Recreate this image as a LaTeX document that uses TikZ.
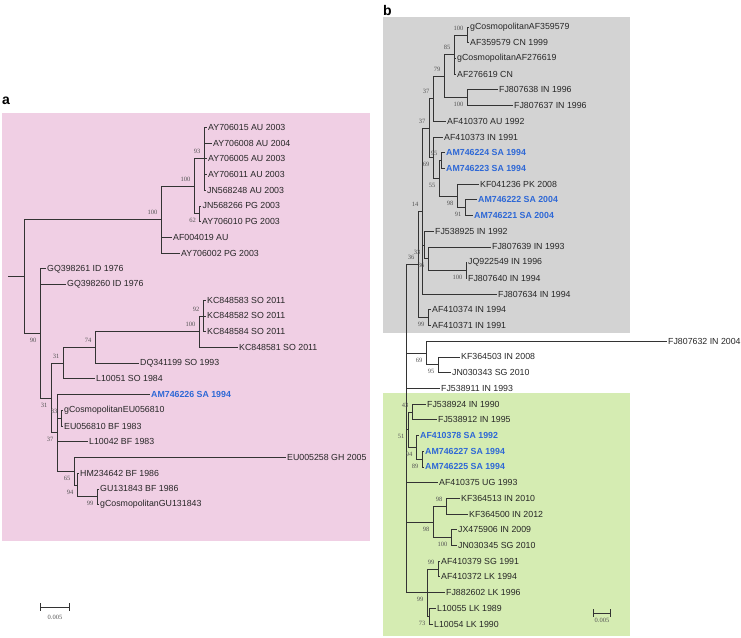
\documentclass[tikz,border=0pt]{standalone}
\usepackage{fontspec}
\setmainfont{Liberation Sans}
\newfontfamily\bsfont{Liberation Serif}
\definecolor{pinkbg}{RGB}{240,207,228}
\definecolor{graybg}{RGB}{211,211,211}
\definecolor{greenbg}{RGB}{213,236,178}
\definecolor{saBlue}{RGB}{46,104,214}
\definecolor{bsGray}{RGB}{85,85,85}
\tikzset{
  leaf/.style={anchor=west, inner xsep=1.5pt, inner ysep=0pt, font=\fontsize{8.8}{10}\selectfont, text=black!85},
  saleaf/.style={leaf, font=\fontsize{8.8}{10}\selectfont\bfseries, text=saBlue},
  bs/.style={anchor=east, inner sep=0pt, font=\bsfont\fontsize{6.5}{7}\selectfont, text=bsGray, xshift=-3.5pt},
  bsa/.style={bs, yshift=7pt},
  bsb/.style={bs, yshift=-7pt},
  branch/.style={line width=0.8pt, black!80},
  br/.style={branch, to path={|- (\tikztotarget)}},
  sclabel/.style={inner sep=0pt, font=\bsfont\fontsize{6.5}{7}\selectfont, text=bsGray},
  panel/.style={anchor=base west, inner sep=0pt, font=\fontsize{14}{16}\selectfont\bfseries},
}
\begin{document}
\begin{tikzpicture}[x=1pt, y=-1pt]
\useasboundingbox (0,0) rectangle (741,637);

% Background boxes
\fill[pinkbg] (2,113) rectangle (370,541);
\fill[graybg] (383,17) rectangle (630,333);
\fill[greenbg] (383,393) rectangle (630,636);
\node[panel] (pa) at (2,104) {a};
\node[panel] (pb) at (383,15) {b};

% ---- Tree a: leaves
\node[leaf] (a1) at (206.5,127.3) {AY706015 AU 2003};
\node[leaf] (a2) at (211.5,143.0) {AY706008 AU 2004};
\node[leaf] (a3) at (206.5,158.7) {AY706005 AU 2003};
\node[leaf] (a4) at (206.5,174.5) {AY706011 AU 2003};
\node[leaf] (a5) at (205.5,190.2) {JN568248 AU 2003};
\node[leaf] (a6) at (201,205.9) {JN568266 PG 2003};
\node[leaf] (a7) at (200.5,221.6) {AY706010 PG 2003};
\node[leaf] (a8) at (171.5,237.3) {AF004019 AU};
\node[leaf] (a9) at (179.5,253.1) {AY706002 PG 2003};
\node[leaf] (a10) at (45.5,268.8) {GQ398261 ID 1976};
\node[leaf] (a11) at (65.5,284.5) {GQ398260 ID 1976};
\node[leaf] (a12) at (205.5,300.2) {KC848583 SO 2011};
\node[leaf] (a13) at (205.5,315.9) {KC848582 SO 2011};
\node[leaf] (a14) at (205.5,331.7) {KC848584 SO 2011};
\node[leaf] (a15) at (237.5,347.4) {KC848581 SO 2011};
\node[leaf] (a16) at (138.5,363.1) {DQ341199 SO 1993};
\node[leaf] (a17) at (94.5,378.8) {L10051 SO 1984};
\node[saleaf] (a18) at (149.5,394.5) {AM746226 SA 1994};
\node[leaf] (a19) at (62.5,410.3) {gCosmopolitanEU056810};
\node[leaf] (a20) at (62.5,426.0) {EU056810 BF 1983};
\node[leaf] (a21) at (87.5,441.7) {L10042 BF 1983};
\node[leaf] (a22) at (285.5,457.4) {EU005258 GH 2005};
\node[leaf] (a23) at (78.5,473.1) {HM234642 BF 1986};
\node[leaf] (a24) at (98.5,488.9) {GU131843 BF 1986};
\node[leaf] (a25) at (98.5,504.6) {gCosmopolitanGU131843};

% ---- Tree a: inner nodes
\coordinate (n93) at (204,158.8);
\coordinate (n62) at (199.5,213.8);
\coordinate (n100s) at (194,186.3);
\coordinate (n100b) at (161,219.7);
\coordinate (n92) at (203,316.0);
\coordinate (n100k) at (199,331.7);
\coordinate (n74) at (95,347.4);
\coordinate (n31b) at (63,363.1);
\coordinate (n83) at (61,418.2);
\coordinate (n99) at (97,496.7);
\coordinate (n94) at (77,484.9);
\coordinate (n65) at (74,471.2);
\coordinate (n37) at (57,432.8);
\coordinate (n31) at (51,398.0);
\coordinate (n90) at (40,333.4);
\coordinate (ra) at (24,276.6);
\coordinate (ra0) at (8,276.6);

% ---- Tree a: branches
\path (n93) edge[br] (a1.west) edge[br] (a2.west) edge[br] (a3.west) edge[br] (a4.west) edge[br] (a5.west);
\path (n62) edge[br] (a6.west) edge[br] (a7.west);
\path (n100s) edge[br] (n93) edge[br] (n62);
\path (n100b) edge[br] (n100s) edge[br] (a8.west) edge[br] (a9.west);
\path (n92) edge[br] (a12.west) edge[br] (a13.west) edge[br] (a14.west);
\path (n100k) edge[br] (n92) edge[br] (a15.west);
\path (n74) edge[br] (n100k) edge[br] (a16.west);
\path (n31b) edge[br] (n74) edge[br] (a17.west);
\path (n83) edge[br] (a19.west) edge[br] (a20.west);
\path (n99) edge[br] (a24.west) edge[br] (a25.west);
\path (n94) edge[br] (a23.west) edge[br] (n99);
\path (n65) edge[br] (a22.west) edge[br] (n94);
\path (n37) edge[br] (a18.west) edge[br] (n83) edge[br] (a21.west) edge[br] (n65);
\path (n31) edge[br] (n31b) edge[br] (n37);
\path (n90) edge[br] (a10.west) edge[br] (a11.west) edge[br] (n31);
\path (ra) edge[br] (n100b) edge[br] (n90);
\draw[branch] (ra0) -- (ra);

% ---- Tree a: bootstrap values
\node[bsa] (ba93) at (n93) {93};
\node[bsb] (ba62) at (n62) {62};
\node[bsa] (ba100s) at (n100s) {100};
\node[bsa] (ba100b) at (n100b) {100};
\node[bsa] (ba92) at (n92) {92};
\node[bsa] (ba100k) at (n100k) {100};
\node[bsa] (ba74) at (n74) {74};
\node[bsa] (ba31b) at (n31b) {31};
\node[bsa] (ba83) at (n83) {83};
\node[bsb] (ba37) at (n37) {37};
\node[bsb] (ba31) at (n31) {31};
\node[bsb] (ba90) at (n90) {90};
\node[bsb] (ba65) at (n65) {65};
\node[bsb] (ba94) at (n94) {94};
\node[bsb] (ba99) at (n99) {99};

% Scale bar a
\coordinate (sa1) at (40,607);
\coordinate (sa2) at (70,607);
\draw[branch,|-|] (sa1) -- (sa2);
\node[sclabel] (sla) at (55,617) {0.005};

% ---- Tree b: leaves
\node[leaf] (b1) at (468.5,27.0) {gCosmopolitanAF359579};
\node[leaf] (b2) at (468.5,42.7) {AF359579 CN 1999};
\node[leaf] (b3) at (455.5,58.4) {gCosmopolitanAF276619};
\node[leaf] (b4) at (455.5,74.1) {AF276619 CN};
\node[leaf] (b5) at (497.5,89.8) {FJ807638 IN 1996};
\node[leaf] (b6) at (512.5,105.6) {FJ807637 IN 1996};
\node[leaf] (b7) at (445.5,121.3) {AF410370 AU 1992};
\node[leaf] (b8) at (442.5,137.0) {AF410373 IN 1991};
\node[saleaf] (b9) at (444.5,152.7) {AM746224 SA 1994};
\node[saleaf] (b10) at (444.5,168.4) {AM746223 SA 1994};
\node[leaf] (b11) at (478.5,184.1) {KF041236 PK 2008};
\node[saleaf] (b12) at (476.5,199.8) {AM746222 SA 2004};
\node[saleaf] (b13) at (472.5,215.5) {AM746221 SA 2004};
\node[leaf] (b14) at (433.5,231.2) {FJ538925 IN 1992};
\node[leaf] (b15) at (490.5,246.9) {FJ807639 IN 1993};
\node[leaf] (b16) at (466.5,262.7) {JQ922549 IN 1996};
\node[leaf] (b17) at (466.5,278.4) {FJ807640 IN 1994};
\node[leaf] (b18) at (496.5,294.1) {FJ807634 IN 1994};
\node[leaf] (b19) at (430.5,309.8) {AF410374 IN 1994};
\node[leaf] (b20) at (430.5,325.5) {AF410371 IN 1991};
\node[leaf] (b21) at (666.5,341.2) {FJ807632 IN 2004};
\node[leaf] (b22) at (459.5,356.9) {KF364503 IN 2008};
\node[leaf] (b23) at (450.5,372.6) {JN030343 SG 2010};
\node[leaf] (b24) at (439.5,388.3) {FJ538911 IN 1993};
\node[leaf] (b25) at (425.5,404.0) {FJ538924 IN 1990};
\node[leaf] (b26) at (436.5,419.8) {FJ538912 IN 1995};
\node[saleaf] (b27) at (418.5,435.5) {AF410378 SA 1992};
\node[saleaf] (b28) at (423.5,451.2) {AM746227 SA 1994};
\node[saleaf] (b29) at (423.5,466.9) {AM746225 SA 1994};
\node[leaf] (b30) at (437.5,482.6) {AF410375 UG 1993};
\node[leaf] (b31) at (459.5,498.3) {KF364513 IN 2010};
\node[leaf] (b32) at (467.5,514.0) {KF364500 IN 2012};
\node[leaf] (b33) at (456.5,529.7) {JX475906 IN 2009};
\node[leaf] (b34) at (456.5,545.4) {JN030345 SG 2010};
\node[leaf] (b35) at (439.5,561.1) {AF410379 SG 1991};
\node[leaf] (b36) at (439.5,576.8) {AF410372 LK 1994};
\node[leaf] (b37) at (444.5,592.6) {FJ882602 LK 1996};
\node[leaf] (b38) at (435.5,608.3) {L10055 LK 1989};
\node[leaf] (b39) at (432.5,624.0) {L10054 LK 1990};

% ---- Tree b: inner nodes
\coordinate (m100t) at (467,34.9);
\coordinate (m85) at (454,54.5);
\coordinate (m100f) at (467,97.7);
\coordinate (m79) at (444,76.1);
\coordinate (m37u) at (433,98.7);
\coordinate (m95) at (441,160.6);
\coordinate (m91) at (465,207.7);
\coordinate (m98) at (457,195.9);
\coordinate (m55) at (439,178.3);
\coordinate (m69) at (433,157.7);
\coordinate (m37l) at (429,128.2);
\coordinate (m100j) at (466,270.6);
\coordinate (m36b) at (428,258.8);
\coordinate (m33) at (424,245.0);
\coordinate (m14) at (422,211.2);
\coordinate (m99u) at (428,317.7);
\coordinate (m36) at (418,264.5);
\coordinate (m95b) at (438,364.8);
\coordinate (m69b) at (426,353.0);
\coordinate (m43) at (412,411.9);
\coordinate (m89) at (422,459.1);
\coordinate (m94) at (416,447.3);
\coordinate (m51) at (408,429.6);
\coordinate (m98u) at (446,506.2);
\coordinate (m100) at (451,537.6);
\coordinate (m98l) at (433,521.9);
\coordinate (m99a) at (438,569.0);
\coordinate (m73) at (429,616.2);
\coordinate (m99l) at (427,592.6);
\coordinate (rb) at (406,428.6);

% ---- Tree b: branches
\path (m100t) edge[br] (b1.west) edge[br] (b2.west);
\path (m85) edge[br] (m100t) edge[br] (b3.west) edge[br] (b4.west);
\path (m100f) edge[br] (b5.west) edge[br] (b6.west);
\path (m79) edge[br] (m85) edge[br] (m100f);
\path (m37u) edge[br] (m79) edge[br] (b7.west);
\path (m95) edge[br] (b9.west) edge[br] (b10.west);
\path (m91) edge[br] (b12.west) edge[br] (b13.west);
\path (m98) edge[br] (b11.west) edge[br] (m91);
\path (m55) edge[br] (m95) edge[br] (m98);
\path (m69) edge[br] (b8.west) edge[br] (m55);
\path (m37l) edge[br] (m37u) edge[br] (m69);
\path (m100j) edge[br] (b16.west) edge[br] (b17.west);
\path (m36b) edge[br] (b15.west) edge[br] (m100j);
\path (m33) edge[br] (b14.west) edge[br] (m36b);
\path (m14) edge[br] (m37l) edge[br] (m33) edge[br] (b18.west);
\path (m99u) edge[br] (b19.west) edge[br] (b20.west);
\path (m36) edge[br] (m14) edge[br] (m99u);
\path (m95b) edge[br] (b22.west) edge[br] (b23.west);
\path (m69b) edge[br] (b21.west) edge[br] (m95b);
\path (m43) edge[br] (b25.west) edge[br] (b26.west);
\path (m89) edge[br] (b28.west) edge[br] (b29.west);
\path (m94) edge[br] (b27.west) edge[br] (m89);
\path (m51) edge[br] (m43) edge[br] (m94);
\path (m98u) edge[br] (b31.west) edge[br] (b32.west);
\path (m100) edge[br] (b33.west) edge[br] (b34.west);
\path (m98l) edge[br] (m98u) edge[br] (m100);
\path (m99a) edge[br] (b35.west) edge[br] (b36.west);
\path (m73) edge[br] (b38.west) edge[br] (b39.west);
\path (m99l) edge[br] (m99a) edge[br] (b37.west) edge[br] (m73);
\path (rb) edge[br] (m36) edge[br] (m69b) edge[br] (b24.west) edge[br] (m51)
  edge[br] (b30.west) edge[br] (m98l) edge[br] (m99l);

% ---- Tree b: bootstrap values
\node[bsa] (bb100t) at (m100t) {100};
\node[bsa] (bb85) at (m85) {85};
\node[bsb] (bb100f) at (m100f) {100};
\node[bsa] (bb79) at (m79) {79};
\node[bsa] (bb37u) at (m37u) {37};
\node[bsa] (bb37l) at (m37l) {37};
\node[bsb] (bb69) at (m69) {69};
\node[bsa] (bb95) at (m95) {95};
\node[bsb] (bb55) at (m55) {55};
\node[bsb] (bb98) at (m98) {98};
\node[bsb] (bb91) at (m91) {91};
\node[bsa] (bb14) at (m14) {14};
\node[bsb] (bb33) at (m33) {33};
\node[bsb] (bb36b) at (m36b) {36};
\node[bsb] (bb100j) at (m100j) {100};
\node[bsa] (bb36) at (m36) {36};
\node[bsb] (bb99u) at (m99u) {99};
\node[bsb] (bb69b) at (m69b) {69};
\node[bsb] (bb95b) at (m95b) {95};
\node[bsa] (bb43) at (m43) {43};
\node[bsb] (bb51) at (m51) {51};
\node[bsb] (bb94) at (m94) {94};
\node[bsb] (bb89) at (m89) {89};
\node[bsa] (bb98u) at (m98u) {98};
\node[bsb] (bb98l) at (m98l) {98};
\node[bsb] (bb100) at (m100) {100};
\node[bsa] (bb99a) at (m99a) {99};
\node[bsb] (bb99l) at (m99l) {99};
\node[bsb] (bb73) at (m73) {73};

% Scale bar b
\coordinate (sb1) at (593,613);
\coordinate (sb2) at (611,613);
\draw[branch,|-|] (sb1) -- (sb2);
\node[sclabel] (slb) at (602,620) {0.005};
\end{tikzpicture}
\end{document}
